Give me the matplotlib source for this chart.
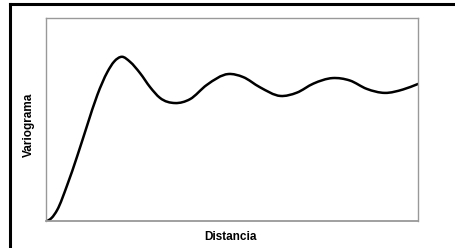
import numpy as np
import matplotlib
matplotlib.use("Agg")
import matplotlib.pyplot as plt
from matplotlib.path import Path
from matplotlib.patches import PathPatch
from matplotlib.lines import Line2D

# valores (distancia 0..100, variograma 0..1)
dist = [0.0, 1.5, 3.0, 5.7, 8.4, 11.1, 13.8, 16.5, 18.3, 20.4, 22.6, 25.3,
        28.0, 30.6, 34.7, 38.7, 43.2, 49.0, 53.0, 57.5, 63.0, 67.4, 71.9,
        77.0, 81.7, 86.2, 91.1, 96.0, 100.0]
vario = [0.0, 0.015, 0.054, 0.177, 0.320, 0.473, 0.621, 0.734, 0.785, 0.809,
         0.784, 0.728, 0.659, 0.607, 0.581, 0.600, 0.670, 0.724, 0.709,
         0.659, 0.616, 0.632, 0.677, 0.704, 0.692, 0.651, 0.631, 0.648, 0.675]

xlabel = "Distancia"
ylabel = "Variograma"


def smooth_path(x, y):
    # linea suavizada: tramos cubicos de hermite como curvas bezier
    x = np.asarray(x, float)
    y = np.asarray(y, float)
    h = np.diff(x)
    d = np.diff(y) / h
    m = np.empty_like(y)
    m[0] = 0.0
    m[-1] = d[-1]
    m[1:-1] = (h[:-1] * d[1:] + h[1:] * d[:-1]) / (h[:-1] + h[1:])
    verts = [(x[0], y[0])]
    codes = [Path.MOVETO]
    for i in range(len(x) - 1):
        k = h[i] / 3.0
        verts += [(x[i] + k, y[i] + k * m[i]),
                  (x[i + 1] - k, y[i + 1] - k * m[i + 1]),
                  (x[i + 1], y[i + 1])]
        codes += [Path.CURVE4] * 3
    return Path(verts, codes)


plt.rcParams['font.family'] = ['Liberation Sans', 'DejaVu Sans']

fig = plt.figure(figsize=(4.56, 2.48), dpi=100)
ax = fig.add_axes([46/456, 1 - 221/248, 372/456, 203/248])

ax.add_patch(PathPatch(smooth_path(dist, vario), facecolor='none',
                       edgecolor='black', lw=1.8, transform=ax.transData,
                       capstyle='round', joinstyle='round'))
ax.set_xlim(0, 100)
ax.set_ylim(0, 1)
ax.set_xticks([])
ax.set_yticks([])
for s in ax.spines.values():
    s.set_color('#999999')
    s.set_linewidth(1.0)
ax.spines['bottom'].set_linewidth(1.3)

fig.text(231/456, 1 - 237/248, xlabel, ha='center', va='center',
         fontsize=8.5, fontweight='bold')
fig.text(29/456, 1 - 125/248, ylabel, ha='center', va='center',
         fontsize=8.5, fontweight='bold', rotation=90)

# marco exterior (solo se ven borde izquierdo y superior)
fig.add_artist(Line2D([10/456, 10/456], [0, 1 - 4/248], color='black', lw=2.2))
fig.add_artist(Line2D([10/456, 1], [1 - 4/248, 1 - 4/248], color='black', lw=2.2))

fig.savefig("out.png", dpi=100)
